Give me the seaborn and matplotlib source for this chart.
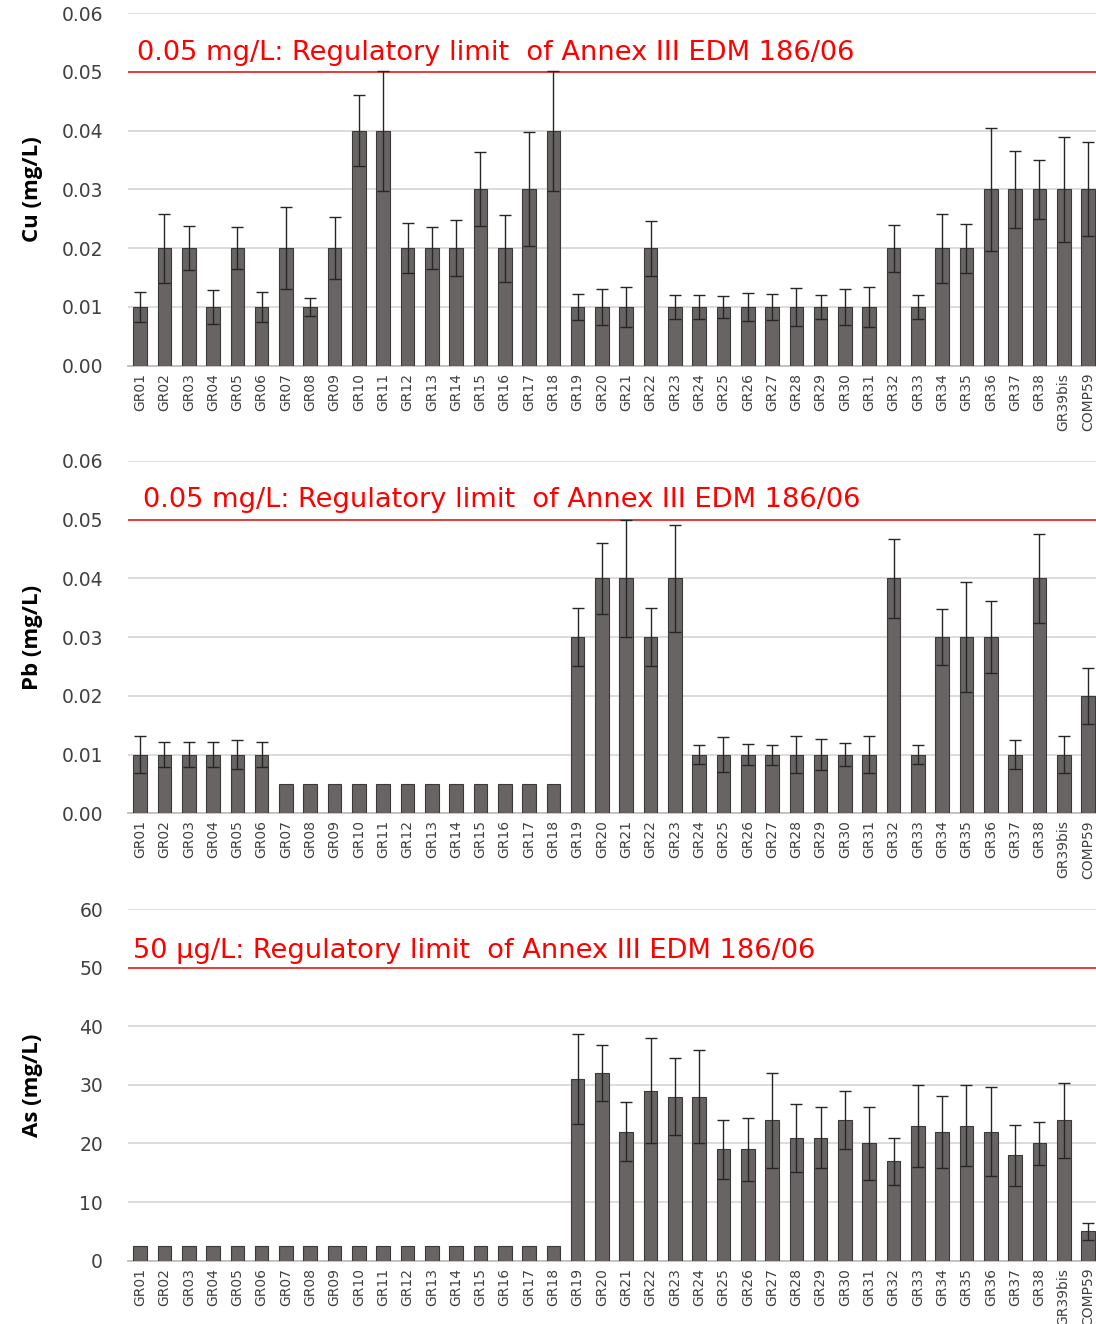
import numpy as np
import pandas as pd
import matplotlib
matplotlib.use("Agg")
import matplotlib.pyplot as plt
import matplotlib.transforms as mtransforms
import seaborn as sns

# ---------------- data ----------------
sites = ["GR01", "GR02", "GR03", "GR04", "GR05", "GR06", "GR07", "GR08", "GR09", "GR10",
         "GR11", "GR12", "GR13", "GR14", "GR15", "GR16", "GR17", "GR18", "GR19", "GR20",
         "GR21", "GR22", "GR23", "GR24", "GR25", "GR26", "GR27", "GR28", "GR29", "GR30",
         "GR31", "GR32", "GR33", "GR34", "GR35", "GR36", "GR37", "GR38", "GR39bis", "COMP59"]

cu_mean = [0.01, 0.02, 0.02, 0.01, 0.02, 0.01, 0.02, 0.01, 0.02, 0.04,
           0.04, 0.02, 0.02, 0.02, 0.03, 0.02, 0.03, 0.04, 0.01, 0.01,
           0.01, 0.02, 0.01, 0.01, 0.01, 0.01, 0.01, 0.01, 0.01, 0.01,
           0.01, 0.02, 0.01, 0.02, 0.02, 0.03, 0.03, 0.03, 0.03, 0.03]
cu_err = [0.0025, 0.0059, 0.0037, 0.0029, 0.0036, 0.0025, 0.0070, 0.0016, 0.0053, 0.0060,
          0.0102, 0.0043, 0.0036, 0.0048, 0.0063, 0.0057, 0.0097, 0.0102, 0.0022, 0.0031,
          0.0034, 0.0047, 0.0021, 0.0020, 0.0018, 0.0024, 0.0022, 0.0032, 0.0020, 0.0030,
          0.0034, 0.0040, 0.0020, 0.0059, 0.0042, 0.0105, 0.0065, 0.0051, 0.0089, 0.0080]

pb_mean = [0.01, 0.01, 0.01, 0.01, 0.01, 0.01, 0.005, 0.005, 0.005, 0.005,
           0.005, 0.005, 0.005, 0.005, 0.005, 0.005, 0.005, 0.005, 0.03, 0.04,
           0.04, 0.03, 0.04, 0.01, 0.01, 0.01, 0.01, 0.01, 0.01, 0.01,
           0.01, 0.04, 0.01, 0.03, 0.03, 0.03, 0.01, 0.04, 0.01, 0.02]
pb_err = [0.0032, 0.0021, 0.0021, 0.0021, 0.0024, 0.0021, 0, 0, 0, 0,
          0, 0, 0, 0, 0, 0, 0, 0, 0.0050, 0.0060,
          0.0100, 0.0050, 0.0091, 0.0016, 0.0030, 0.0018, 0.0017, 0.0032, 0.0026, 0.0020,
          0.0032, 0.0067, 0.0016, 0.0048, 0.0094, 0.0062, 0.0025, 0.0076, 0.0031, 0.0048]

as_mean = [2.5, 2.5, 2.5, 2.5, 2.5, 2.5, 2.5, 2.5, 2.5, 2.5,
           2.5, 2.5, 2.5, 2.5, 2.5, 2.5, 2.5, 2.5, 31, 32,
           22, 29, 28, 28, 19, 19, 24, 21, 21, 24,
           20, 17, 23, 22, 23, 22, 18, 20, 24, 5]
as_err = [0, 0, 0, 0, 0, 0, 0, 0, 0, 0,
          0, 0, 0, 0, 0, 0, 0, 0, 7.7, 4.8,
          5.0, 9.0, 6.6, 8.0, 5.0, 5.4, 8.1, 5.8, 5.2, 5.0,
          6.3, 4.0, 7.0, 6.1, 6.9, 7.6, 5.2, 3.6, 6.4, 1.5]

ylabels = ["Cu (mg/L)", "Pb (mg/L)", "As (mg/L)"]
limits = [0.05, 0.05, 50]
limit_texts = ["0.05 mg/L: Regulatory limit  of Annex III EDM 186/06",
               "0.05 mg/L: Regulatory limit  of Annex III EDM 186/06",
               "50 \u00b5g/L: Regulatory limit  of Annex III EDM 186/06"]
ymax = [0.06, 0.06, 60]
ystep = [0.01, 0.01, 10]
yfmt = ["{:.2f}", "{:.2f}", "{:.0f}"]

# ---------------- style ----------------
sns.set_style("white")
plt.rcParams['font.family'] = ['Open Sans', 'DejaVu Sans']

BAR = "#686463"
GRID = "#d9d9d9"
TXT = "#404040"

fig = plt.figure(figsize=(10.96, 13.24), dpi=100)
axes_rects = [[0.1168, 0.7238, 0.887, 0.2662],
              [0.1168, 0.3857, 0.887, 0.2663],
              [0.1168, 0.0478, 0.887, 0.2656]]
text_x = [0.009, 0.015, 0.005]
text_y = [0.0521, 0.0521, 51.7]

series = [(cu_mean, cu_err), (pb_mean, pb_err), (as_mean, as_err)]

for i, (mean, err) in enumerate(series):
    ax = fig.add_axes(axes_rects[i])
    df = pd.DataFrame({"site": sites, "value": mean, "err": err})
    sns.barplot(data=df, x="site", y="value", ax=ax, color=BAR, saturation=1,
                width=0.56, errorbar=None, edgecolor="#3a3a3a", linewidth=0.8, zorder=3)

    # error bars only where there is a spread
    has_err = df[df["err"] > 0]
    ax.errorbar(has_err.index, has_err["value"], yerr=has_err["err"], fmt="none",
                ecolor="#262626", elinewidth=1.0, capsize=4, capthick=1.0, zorder=4)

    ticks = np.arange(0, ymax[i] + ystep[i] / 2, ystep[i])
    ax.set_ylim(0, ymax[i])
    ax.set_yticks(ticks)
    ax.set_yticklabels([yfmt[i].format(t) for t in ticks], fontsize=13.5, color=TXT,
                       family=['DejaVu Sans'])
    ax.set_xlim(-0.5, len(sites) - 0.5)
    ax.tick_params(axis="x", labelrotation=90, labelsize=10, labelcolor=TXT, length=0, pad=5)
    ax.tick_params(axis="y", length=0, pad=18)
    for lab in ax.get_xticklabels():
        lab.set_family(['Liberation Sans Narrow', 'DejaVu Sans'])

    ax.grid(axis="y", color=GRID, linewidth=1.3, zorder=0)
    ax.set_axisbelow(True)
    for side in ["top", "right", "left"]:
        ax.spines[side].set_visible(False)
    ax.spines["bottom"].set_color("#bfbfbf")
    ax.spines["bottom"].set_linewidth(1.3)

    # regulatory limit line and its label
    ax.axhline(limits[i], color="#e8211f", linewidth=1.2, zorder=2)
    ax.text(text_x[i], text_y[i], limit_texts[i],
            transform=mtransforms.blended_transform_factory(ax.transAxes, ax.transData),
            color="#ff0000", fontsize=19.6, va="baseline", ha="left", family=['DejaVu Sans'])

    ax.set_xlabel("")
    ax.set_ylabel(ylabels[i], fontsize=16, fontweight="bold", color="black")
    ax.yaxis.set_label_coords(-0.087, 0.5)

fig.savefig("out.png", dpi=100)
